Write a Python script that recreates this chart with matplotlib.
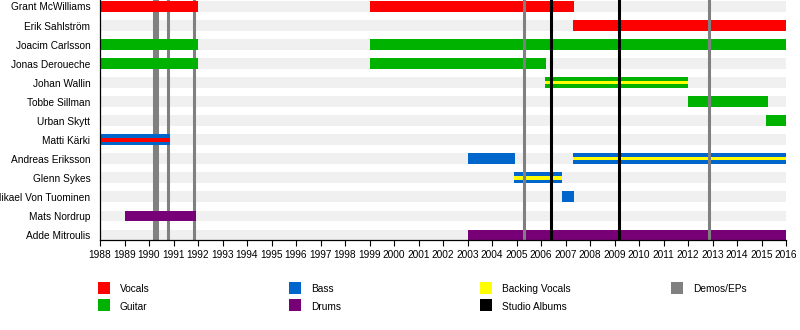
import matplotlib
matplotlib.use("Agg")
import matplotlib.pyplot as plt
from matplotlib.patches import Rectangle

plt.rcParams['font.family'] = ['Liberation Sans', 'DejaVu Sans']

members = ["Grant McWilliams", "Erik Sahlström", "Joacim Carlsson", "Jonas Deroueche",
           "Johan Wallin", "Tobbe Sillman", "Urban Skytt", "Matti Kärki",
           "Andreas Eriksson", "Glenn Sykes", "Mikael Von Tuominen", "Mats Nordrup",
           "Adde Mitroulis"]

vocals_bars = [("Grant McWilliams", 1988, 1992), ("Grant McWilliams", 1999, 2007.35),
               ("Erik Sahlström", 2007.3, 2016)]
guitar_bars = [("Joacim Carlsson", 1988, 1992), ("Joacim Carlsson", 1999, 2016),
               ("Jonas Deroueche", 1988, 1992), ("Jonas Deroueche", 1999, 2006.2),
               ("Johan Wallin", 2006.17, 2012.0), ("Tobbe Sillman", 2012.0, 2015.27),
               ("Urban Skytt", 2015.2, 2016)]
bass_bars = [("Matti Kärki", 1988, 1990.86), ("Andreas Eriksson", 2003, 2004.95),
             ("Andreas Eriksson", 2007.3, 2016), ("Glenn Sykes", 2004.9, 2006.86),
             ("Mikael Von Tuominen", 2006.86, 2007.35)]
drums_bars = [("Mats Nordrup", 1989, 1991.9), ("Adde Mitroulis", 2003, 2016)]

vocals_stripes = [("Matti Kärki", 1988, 1990.86)]
backing_stripes = [("Johan Wallin", 2006.17, 2012.0), ("Andreas Eriksson", 2007.3, 2016),
                   ("Glenn Sykes", 2004.9, 2006.86)]

studio_albums = [2006.42, 2009.2]
demos_back = [1990.2, 1990.33, 1990.76, 1991.84]
demos_front = [2005.32, 2012.87]

years = list(range(1988, 2017))

legend_labels = ["Vocals", "Guitar", "Bass", "Drums", "Backing Vocals", "Studio Albums", "Demos/EPs"]

C_VOC = "#ff0000"
C_GUI = "#00b200"
C_BAS = "#0066cc"
C_DRU = "#770077"
C_BV = "#ffff00"
C_ALB = "#000000"
C_DEM = "#808080"
legend_colors = [C_VOC, C_GUI, C_BAS, C_DRU, C_BV, C_ALB, C_DEM]

W, H = 800, 330
fig = plt.figure(figsize=(W / 100, H / 100), dpi=100)
ax = fig.add_axes([100 / W, 1 - 240 / H, 686 / W, 240 / H])

n = len(members)
ax.set_xlim(years[0], years[-1])
ax.set_ylim(n - 1 + 0.26, -0.34)
BH = 0.577
SH = 0.17

row = {m: i for i, m in enumerate(members)}

# background stripes
ax.barh(range(n), [years[-1] - years[0]] * n, left=years[0], height=BH,
        color="#f0f0f0", zorder=0, linewidth=0)

for x in demos_back:
    ax.axvline(x, color=C_DEM, lw=2.2, zorder=1)

def draw(bars, color, h, z):
    for m, s, e in bars:
        ax.barh(row[m], e - s, left=s, height=h, color=color, zorder=z, linewidth=0)

draw(vocals_bars, C_VOC, BH, 2)
draw(guitar_bars, C_GUI, BH, 2)
draw(bass_bars, C_BAS, BH, 2)
draw(drums_bars, C_DRU, BH, 2)
draw(vocals_stripes, C_VOC, 0.21, 3)
draw(backing_stripes, C_BV, SH, 3)

for x in demos_front:
    ax.axvline(x, color=C_DEM, lw=2.2, zorder=4)
for x in studio_albums:
    ax.axvline(x, color=C_ALB, lw=2.2, zorder=4)

ax.set_yticks(range(n))
ax.set_yticklabels(members, fontsize=7.3)
ax.tick_params(axis='y', length=0, pad=7)
ax.set_xticks(years)
ax.set_xticklabels([str(y) for y in years], fontsize=7.3)
ax.tick_params(axis='x', length=4, width=0.8, pad=3)
for s in ["top", "right"]:
    ax.spines[s].set_visible(False)
for s in ["left", "bottom"]:
    ax.spines[s].set_linewidth(0.9)
    ax.spines[s].set_color("black")
    ax.spines[s].set_zorder(5)

# legend
cols_x = [98, 289, 480, 671]
rows_y = [282, 299]
for i, (lab, col) in enumerate(zip(legend_labels, legend_colors)):
    cx = cols_x[i // 2]
    ry = rows_y[i % 2]
    fig.patches.append(Rectangle((cx / W, 1 - (ry + 12) / H), 12 / W, 12 / H,
                                 transform=fig.transFigure, color=col, lw=0))
    fig.text((cx + 22) / W, 1 - (ry + 7.5) / H, lab, fontsize=7.3, va="center", ha="left")

fig.savefig("out.png", dpi=100)
